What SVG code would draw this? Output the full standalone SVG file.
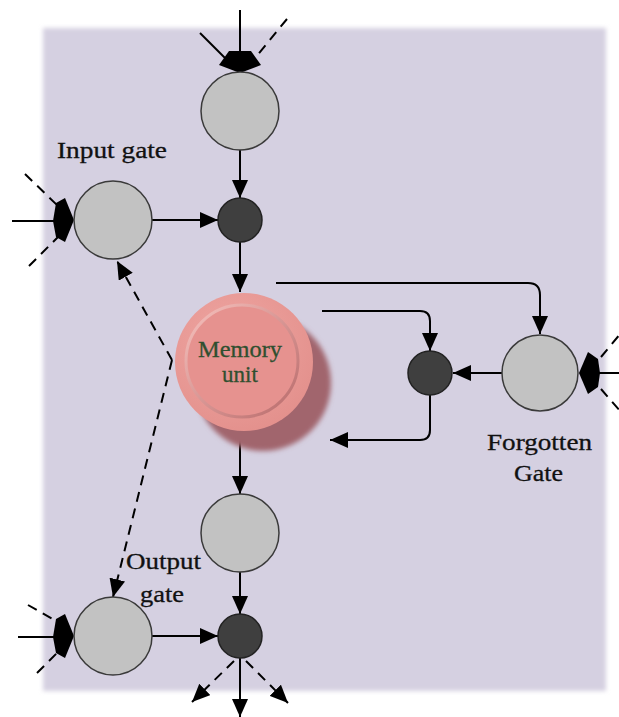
<svg xmlns="http://www.w3.org/2000/svg" width="619" height="717" viewBox="0 0 619 717">
<defs>
<style>
.ln{fill:none;stroke:#000;stroke-width:2}
.ds{fill:none;stroke:#000;stroke-width:2;stroke-dasharray:10,7}
.gc{fill:#c2c2c2;stroke:#3a3a3a;stroke-width:1.5}
.dc{fill:#3f3f3f;stroke:#222;stroke-width:1.5}
.lbl{font-family:"Liberation Serif","Times New Roman",serif;font-size:23px;fill:#111;stroke:#111;stroke-width:0.3}
.mem{font-family:"Liberation Serif","Times New Roman",serif;font-size:23px;fill:#2f4f2f;stroke:#2f4f2f;stroke-width:0.3}
.tip{fill:#000}
</style>
<marker id="ah" markerUnits="userSpaceOnUse" markerWidth="18" markerHeight="16" refX="18" refY="8" orient="auto">
<path d="M0,0 L18,8 L0,16 z" fill="#000"/>
</marker>
<filter id="soft" x="-5%" y="-5%" width="110%" height="110%"><feGaussianBlur stdDeviation="2"/></filter>
<filter id="sh" x="-30%" y="-30%" width="160%" height="160%"><feGaussianBlur stdDeviation="2.5"/></filter>
<linearGradient id="bev" x1="0" y1="0" x2="1" y2="1">
<stop offset="0" stop-color="#f7c2be"/>
<stop offset="1" stop-color="#b86a6a"/>
</linearGradient>
<radialGradient id="outer" cx="0.4" cy="0.35" r="0.7">
<stop offset="0" stop-color="#efa6a2"/>
<stop offset="1" stop-color="#e3908c"/>
</radialGradient>
</defs>
<rect width="619" height="717" fill="#ffffff"/>
<rect x="43" y="28" width="563" height="663" fill="#d5d0e1" filter="url(#soft)"/>

<g id="connectors">
<line class="ln" x1="240" y1="149" x2="240" y2="198" marker-end="url(#ah)"/>
<line class="ln" x1="240" y1="242" x2="240" y2="292" marker-end="url(#ah)"/>
<line class="ln" x1="152" y1="220" x2="218" y2="220" marker-end="url(#ah)"/>
<path class="ln" d="M276,283 H528 Q540,283 540,295 V334" marker-end="url(#ah)"/>
<path class="ln" d="M322,311 H420 Q430,311 430,321 V351" marker-end="url(#ah)"/>
<line class="ln" x1="502" y1="373" x2="453" y2="373" marker-end="url(#ah)"/>
<path class="ln" d="M430,395 V430 Q430,440 420,440 H330" marker-end="url(#ah)"/>
<line class="ln" x1="240" y1="432" x2="240" y2="494" marker-end="url(#ah)"/>
<line class="ln" x1="240" y1="572" x2="240" y2="614" marker-end="url(#ah)"/>
<line class="ln" x1="152" y1="636" x2="218" y2="636" marker-end="url(#ah)"/>
<line class="ln" x1="240" y1="658" x2="240" y2="717" marker-end="url(#ah)"/>
<line class="ds" x1="234" y1="661" x2="192" y2="702" marker-end="url(#ah)"/>
<line class="ds" x1="246" y1="661" x2="288" y2="703" marker-end="url(#ah)"/>
<line class="ds" x1="172" y1="360" x2="117" y2="261" marker-end="url(#ah)"/>
<line class="ds" x1="172" y1="360" x2="113" y2="597" marker-end="url(#ah)"/>
<!-- inputs: top -->
<line class="ln" x1="240" y1="10" x2="240" y2="54"/>
<line class="ln" x1="200" y1="33" x2="226" y2="59"/>
<line class="ds" x1="287" y1="19" x2="255" y2="58"/>
<polygon class="tip" points="229,51 251,51 261,65 240,73 219,65"/>
<!-- inputs: input gate -->
<line class="ln" x1="12" y1="221" x2="56" y2="221"/>
<line class="ds" x1="25" y1="174" x2="57" y2="205"/>
<line class="ds" x1="29" y1="266" x2="58" y2="237"/>
<polygon class="tip" points="56,203 65,198 74,220 65,242 56,237 53,221"/>
<!-- inputs: output gate -->
<line class="ln" x1="18" y1="637" x2="56" y2="637"/>
<line class="ds" x1="28" y1="605" x2="58" y2="622"/>
<line class="ds" x1="37" y1="673" x2="58" y2="652"/>
<polygon class="tip" points="56,619 65,614 74,636 65,658 56,653 53,637"/>
<!-- inputs: forget gate -->
<line class="ln" x1="597" y1="373" x2="619" y2="373"/>
<line class="ds" x1="601" y1="357" x2="621" y2="333"/>
<line class="ds" x1="601" y1="389" x2="621" y2="412"/>
<polygon class="tip" points="579,373 588,352 598,359 600,373 598,387 588,394"/>
</g>

<g id="top-node"><circle class="gc" cx="240" cy="111" r="39"/></g>
<g id="input-gate">
<circle class="gc" cx="113" cy="220" r="39"/>
<text class="lbl" x="57" y="158" textLength="110" lengthAdjust="spacingAndGlyphs">Input gate</text>
</g>
<g id="input-mult"><circle class="dc" cx="240" cy="220" r="22"/></g>
<g id="memory-unit">
<circle cx="263" cy="383" r="68" fill="#a1656d" filter="url(#sh)"/>
<circle cx="244" cy="362" r="69" fill="url(#outer)"/>
<circle cx="242" cy="361" r="56" fill="#e6928f" stroke="url(#bev)" stroke-width="3"/>
<text class="mem" x="240" y="357" text-anchor="middle" textLength="84" lengthAdjust="spacingAndGlyphs">Memory</text>
<text class="mem" x="240" y="382" text-anchor="middle">unit</text>
</g>
<g id="forget-mult"><circle class="dc" cx="430" cy="373" r="22"/></g>
<g id="forgotten-gate">
<circle class="gc" cx="540" cy="373" r="38"/>
<text class="lbl" x="487" y="450" textLength="105" lengthAdjust="spacingAndGlyphs">Forgotten</text>
<text class="lbl" x="514" y="481" textLength="49" lengthAdjust="spacingAndGlyphs">Gate</text>
</g>
<g id="bottom-node"><circle class="gc" cx="240" cy="533" r="39"/></g>
<g id="output-gate">
<circle class="gc" cx="113" cy="636" r="39"/>
<text class="lbl" x="126" y="569" textLength="75" lengthAdjust="spacingAndGlyphs">Output</text>
<text class="lbl" x="140" y="602" textLength="44" lengthAdjust="spacingAndGlyphs">gate</text>
</g>
<g id="output-mult"><circle class="dc" cx="240" cy="636" r="22"/></g>
</svg>
